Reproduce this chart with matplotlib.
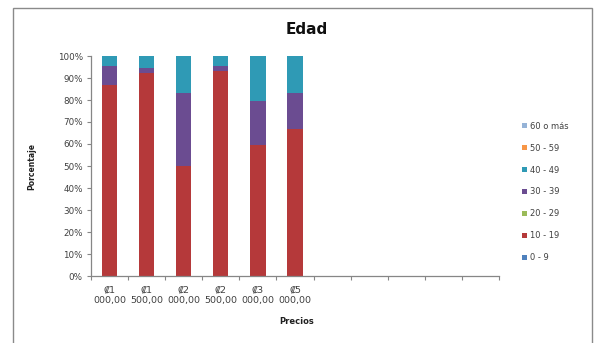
import numpy as np
import matplotlib
matplotlib.use("Agg")
import matplotlib.pyplot as plt
from matplotlib.patches import Rectangle, Patch

# categories (11 slots on the axis, only the first 6 have data)
precios = ["₡1\n000,00", "₡1\n500,00", "₡2\n000,00", "₡2\n500,00", "₡3\n000,00", "₡5\n000,00",
           "", "", "", "", ""]
grupos = ["0 - 9", "10 - 19", "20 - 29", "30 - 39", "40 - 49", "50 - 59", "60 o más"]
colores = ["#4F81BD", "#B5393A", "#9BBB59", "#6B4C91", "#2F9AB5", "#F79646", "#95B3D7"]

# shares per age group (%) for the six price points
edad_0_9 = [0, 0, 0, 0, 0, 0]
edad_10_19 = [86.8, 92.4, 50.0, 93.2, 59.4, 66.7]
edad_20_29 = [0, 0, 0, 0, 0, 0]
edad_30_39 = [8.6, 2.3, 33.3, 2.3, 20.3, 16.6]
edad_40_49 = [4.6, 5.3, 16.7, 4.5, 20.3, 16.7]
edad_50_59 = [0, 0, 0, 0, 0, 0]
edad_60 = [0, 0, 0, 0, 0, 0]
series = [edad_0_9, edad_10_19, edad_20_29, edad_30_39, edad_40_49, edad_50_59, edad_60]

fig = plt.figure(figsize=(5.94, 3.43), dpi=100)
ax = fig.add_axes([91 / 594, 67 / 343, 408 / 594, 220 / 343])

x = np.arange(len(edad_10_19))
bottom = np.zeros(len(x))
for vals, col in zip(series, colores):
    v = np.array(vals) / 100.0
    ax.bar(x, v, bottom=bottom, width=0.41, color=col, linewidth=0)
    bottom += v

ax.set_xlim(-0.5, len(precios) - 0.5)
ax.set_ylim(0, 1)
ax.set_yticks(np.arange(0, 1.01, 0.1))
ax.set_yticklabels([f"{int(round(t * 100))}%" for t in np.arange(0, 1.01, 0.1)])
# category ticks between slots, labels centred
ax.set_xticks(np.arange(-0.5, len(precios), 1.0))
ax.set_xticklabels([])
ax.set_xticks(np.arange(len(precios)), minor=True)
ax.set_xticklabels(precios, minor=True)
ax.tick_params(axis="x", which="minor", length=0, labelsize=6.8, colors="#404040", pad=7)
ax.tick_params(axis="x", which="major", length=3, color="#868686", direction="out")
ax.tick_params(axis="y", length=3, color="#868686", labelsize=6.3, labelcolor="#404040", pad=3)
for s in ("top", "right"):
    ax.spines[s].set_visible(False)
for s in ("left", "bottom"):
    ax.spines[s].set_color("#868686")
    ax.spines[s].set_linewidth(0.9)

ax.set_ylabel("Porcentaje", fontsize=5.5, fontweight="bold", color="#202020")
ax.yaxis.set_label_coords(-0.135, 0.5)
ax.set_xlabel("Precios", fontsize=6, fontweight="bold", color="#202020")
ax.xaxis.set_label_coords(0.505, -0.185)

fig.text(307 / 594, 1 - 29 / 343, "Edad", ha="center", va="center",
         fontsize=11, fontweight="bold", color="#101010")

handles = [Patch(facecolor=c, edgecolor="none") for c in colores][::-1]
leg = fig.legend(handles, grupos[::-1], loc="center left",
                 bbox_to_anchor=(514 / 594, 1 - 192 / 343), frameon=False,
                 fontsize=6, handlelength=0.6, handleheight=0.6, handletextpad=0.4,
                 labelspacing=1.55)
for t in leg.get_texts():
    t.set_color("#404040")

# chart frame
fig.patches.append(Rectangle((13 / 594, -0.05), 579 / 594, 1.05 - 8 / 343,
                             transform=fig.transFigure, fill=False,
                             edgecolor="#8a8a8a", linewidth=1.0))

fig.savefig("out.png", dpi=100)
